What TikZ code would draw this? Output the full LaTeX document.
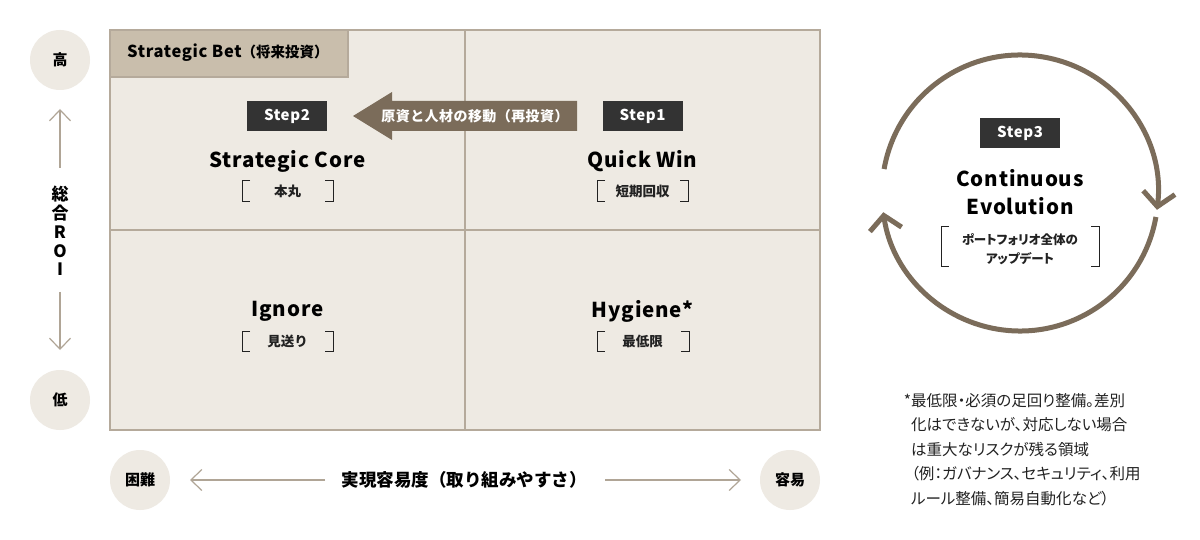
\documentclass[tikz,border=0pt]{standalone}
\usepackage{fontspec}
\setmainfont{Noto Sans CJK JP}
\newfontfamily\trackfont[LetterSpace=4]{Noto Sans CJK JP}
\newfontfamily\jtrack[LetterSpace=3]{Noto Sans CJK JP}
\newfontfamily\paltfont[RawFeature=+palt]{Noto Sans CJK JP}
\usetikzlibrary{arrows.meta,calc}
\definecolor{mfill}{HTML}{EEEAE3}
\definecolor{mline}{HTML}{B5AA9B}
\definecolor{betfill}{HTML}{C9BEAC}
\definecolor{arrowc}{HTML}{7B6C5A}
\definecolor{stepgray}{HTML}{333333}
\definecolor{ringc}{HTML}{7B6C5A}
\definecolor{axline}{HTML}{B0A596}
\definecolor{textdark}{HTML}{222222}
\newcommand\mybrk[4]{%
  \draw[brk] (#1+8,#3) -- (#1,#3) -- (#1,#4) -- (#1+8,#4);
  \draw[brk] (#2-8,#3) -- (#2,#3) -- (#2,#4) -- (#2-8,#4);}
\begin{document}
\begin{tikzpicture}[x=1pt,y=-1pt,
  title/.style={font=\trackfont\bfseries\fontsize{20.5}{24}\selectfont, text=black, inner sep=0},
  sub/.style={font=\bfseries\fontsize{13.5}{16}\selectfont, text=textdark, inner sep=0},
  stepbox/.style={fill=stepgray, text=white, minimum width=80pt, minimum height=30pt, inner sep=0, font=\trackfont\bfseries\fontsize{15}{18}\selectfont},
  axcirc/.style={circle, fill=mfill, minimum size=60pt, inner sep=0, font=\bfseries\fontsize{15}{18}\selectfont},
  axarrow/.style={draw=axline, line width=1.2pt, -{Straight Barb[length=11pt,width=21pt,line width=1.2pt]}},
  ring/.style={draw=ringc, line width=5pt, -{Straight Barb[length=14pt,width=32pt]}},
  brk/.style={draw=textdark, line width=1pt}
]
\useasboundingbox (0,0) rectangle (1200,540);
\fill[white] (0,0) rectangle (1200,540);
% matrix
\draw[mline, fill=mfill, line width=2pt] (110,30) rectangle (820,430);
\draw[mline, line width=1.5pt] (465,30) -- (465,430);
\draw[mline, line width=1.5pt] (110,230) -- (820,230);
\draw[mline, fill=betfill, line width=1.5pt] (110,30) rectangle (348,77);
\node[anchor=west, inner sep=0] (bet) at (127,53) {{\trackfont\bfseries\fontsize{16.5}{18}\selectfont Strategic Bet}{\bfseries\fontsize{14.5}{15}\selectfont（将来投資）}};
% reinvest arrow
\fill[arrowc] (577,101) -- (392,101) -- (392,92) -- (353,116) -- (392,140) -- (392,131) -- (577,131) -- cycle;
\node[text=white, inner sep=0, font=\jtrack\bfseries\fontsize{14}{16}\selectfont] (move) at (475,116) {原資と人材の移動（再投資）};
% steps
\node[stepbox] (s2) at (287,116) {Step2};
\node[stepbox] (s1) at (642.5,116) {Step1};
% quadrant labels
\node[title] (core) at (287.5,161) {Strategic Core};
\node[sub] (coresub) at (287.5,191) {本丸};
\mybrk{242}{333}{181}{202}
\node[title] (qw) at (642.5,161) {Quick Win};
\node[sub] (qwsub) at (642.5,191) {短期回収};
\mybrk{597}{688}{181}{202}
\node[title] (ign) at (287.5,311) {Ignore};
\node[sub] (ignsub) at (287.5,341) {見送り};
\mybrk{242}{333}{331}{351}
\node[title] (hyg) at (642.5,311) {Hygiene*};
\node[sub] (hygsub) at (642.5,341) {最低限};
\mybrk{597}{689}{331}{351}
% vertical axis
\node[axcirc] (hi) at (60,60) {高};
\node[axcirc] (lo) at (60,400) {低};
\node[inner sep=0, align=center, font=\bfseries\fontsize{17}{18.8}\selectfont] (roi) at (60,231) {総\\合\\R\\O\\I};
\coordinate (u1) at (60,168); \coordinate (u2) at (60,109);
\coordinate (d1) at (60,292); \coordinate (d2) at (60,350);
\draw[axarrow] (u1) -- (u2);
\draw[axarrow] (d1) -- (d2);
% horizontal axis
\node[axcirc] (hard) at (140,480) {困難};
\node[axcirc] (easy) at (790,480) {容易};
\node[inner sep=0, font=\bfseries\fontsize{17.5}{20}\selectfont] (ease) at (464,480) {実現容易度（取り組みやすさ）};
\coordinate (l1) at (325,480); \coordinate (l2) at (190,480);
\coordinate (r1) at (605,480); \coordinate (r2) at (741,480);
\draw[axarrow] (l1) -- (l2);
\draw[axarrow] (r1) -- (r2);
% cycle
\coordinate (cc) at (1020,193);
\draw[ring] ($(cc)+(190:138)$) arc[start angle=190, end angle=367, radius=138];
\draw[ring] ($(cc)+(10:138)$) arc[start angle=10, end angle=172, radius=138];
\node[stepbox] (s3) at (1020,133) {Step3};
\node[title, align=center, font=\trackfont\bfseries\fontsize{20.5}{28}\selectfont] (cont) at (1020,192) {Continuous\\Evolution};
\node[inner sep=0, align=center, font=\paltfont\bfseries\fontsize{12.5}{19}\selectfont, text=textdark] (upd) at (1020,249) {ポートフォリオ全体の\\アップデート};
\mybrk{941}{1099}{227}{267}
% footnote
\node[anchor=north west, inner sep=0, align=left, font=\paltfont\fontsize{15.5}{24.5}\selectfont, text=textdark] (note) at (911,393) {\llap{*}最低限・必須の足回り整備。差別\\化はできないが、対応しない場合\\は重大なリスクが残る領域\\（例：ガバナンス、セキュリティ、利用\\ルール整備、簡易自動化など）};
\end{tikzpicture}
\end{document}
